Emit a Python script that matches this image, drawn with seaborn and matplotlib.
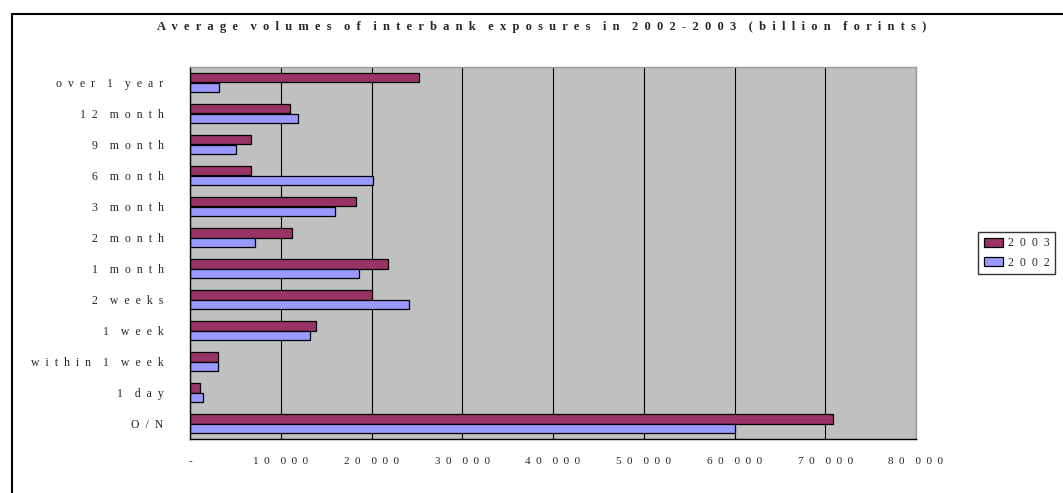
import matplotlib
matplotlib.use('Agg')
import matplotlib.pyplot as plt
import matplotlib.patches as mpatches
import numpy as np
import pandas as pd
import seaborn as sns

# Data (billion forints)
categories = ['over 1 year', '12 month', '9 month', '6 month', '3 month', '2 month',
              '1 month', '2 weeks', '1 week', 'within 1 week', '1 day', 'O/N']
values_2003 = [25200, 11050, 6700, 6700, 18300, 11250, 21800, 20100, 13900, 3050, 1050, 70800]
values_2002 = [3200, 11950, 5050, 20150, 15950, 7200, 18650, 24100, 13200, 3050, 1450, 60000]
years = ['2003', '2002']
x_ticks = [0, 10000, 20000, 30000, 40000, 50000, 60000, 70000, 80000]
x_tick_labels = ['-', '10 000', '20 000', '30 000', '40 000', '50 000', '60 000', '70 000', '80 000']
title = 'Average volumes of interbank exposures in 2002-2003 (billion forints)'
colors = {'2003': '#993366', '2002': '#9999FF'}


def spaced(s):
    # mimic the letter-spaced look of the original export
    return '    '.join('  '.join(w) for w in s.split(' '))


df = pd.DataFrame({
    'Category': categories * 2,
    'Year': ['2003'] * len(categories) + ['2002'] * len(categories),
    'Value': values_2003 + values_2002,
})

sns.set_style('white')
plt.rcParams['font.family'] = ['Liberation Serif', 'DejaVu Serif']

W, H = 1063, 493
fig = plt.figure(figsize=(W / 100, H / 100), dpi=100)
ax = fig.add_axes([190 / W, 1 - 439 / H, (916 - 190) / W, (439 - 67) / H])

sns.barplot(data=df, y='Category', x='Value', hue='Year', hue_order=years,
            order=categories, palette=colors, orient='h', width=0.6,
            edgecolor='black', linewidth=0.9, saturation=1, ax=ax, legend=False)

ax.set_facecolor('#C0C0C0')
ax.set_xlim(0, 80000)
ax.set_ylim(len(categories) - 0.5, -0.5)
ax.set_xticks(x_ticks)
ax.set_xticklabels([spaced(t) for t in x_tick_labels], fontsize=8)
ax.set_yticks(range(len(categories)))
ax.set_yticklabels([spaced(c) for c in categories], fontsize=8.5)
ax.set_yticks(np.arange(-0.5, len(categories), 1), minor=True)
ax.tick_params(axis='y', which='major', length=0, pad=19)
ax.tick_params(axis='y', which='minor', length=8, width=1, color='black', direction='out')
ax.tick_params(axis='x', length=5, width=0.8, color='black', direction='out', pad=8)
ax.set_xlabel('')
ax.set_ylabel('')
ax.xaxis.grid(True, color='black', linewidth=0.8)
ax.set_axisbelow(True)
for side in ['top', 'right']:
    ax.spines[side].set_color('#9a9a9a')
    ax.spines[side].set_linewidth(1)
for side in ['left', 'bottom']:
    ax.spines[side].set_color('black')
    ax.spines[side].set_linewidth(1)

fig.text(542 / W, 1 - 27 / H, spaced(title), ha='center', va='center',
         fontsize=9, fontweight='bold')

handles = [mpatches.Patch(facecolor=colors[y], edgecolor='black', linewidth=0.9) for y in years]
leg = fig.legend(handles, [spaced(y) for y in years], loc='center left',
                 bbox_to_anchor=(978 / W, 1 - 253 / H), fontsize=8.5, frameon=True,
                 fancybox=False, edgecolor='black', handlelength=1.6, handleheight=0.8,
                 handletextpad=0.4, labelspacing=0.6, borderpad=0.5, borderaxespad=0)
leg.get_frame().set_linewidth(1)

# outer chart border (extends beyond the bottom and right edges)
fig.add_artist(mpatches.Rectangle((12 / W, -0.2), 1.5, 1 - 14 / H + 0.2,
                                  transform=fig.transFigure, fill=False,
                                  edgecolor='black', linewidth=1.5, clip_on=False))

fig.savefig('out.png', dpi=100)
plt.close(fig)
